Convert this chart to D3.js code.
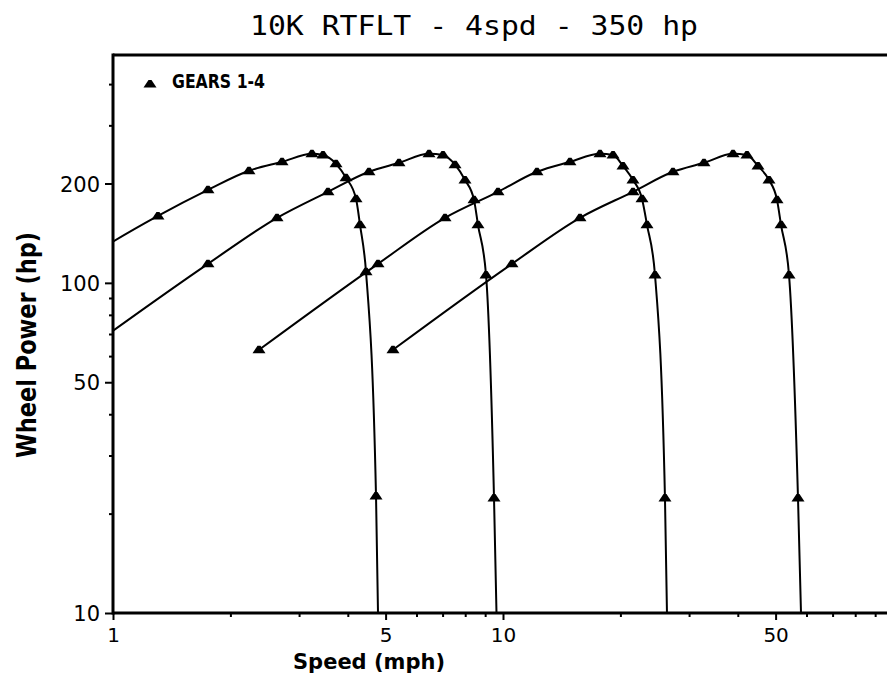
<!DOCTYPE html>
<html><head><meta charset="utf-8">
<script src="https://cdn.jsdelivr.net/npm/d3@7"></script>
<style>body{margin:0;background:#fff}svg{display:block;background:#fff}</style>
</head><body>
<svg id="c" width="887" height="677"></svg>
<script>
const title = "10K RTFLT - 4spd - 350 hp";
const xLabel = "Speed (mph)";
const yLabel = "Wheel Power (hp)";
const legendLabel = "GEARS 1-4";
const xTickLabels = [1, 5, 10, 50];
const yTickLabels = [10, 50, 100, 200];
const xMinorTicks = [2, 3, 4, 6, 7, 8, 9, 20, 30, 40, 60, 70, 80, 90];
const yMinorTicks = [20, 30, 40, 60, 70, 80, 90, 300, 400];

const gear1Speed = [0.430, 0.868, 1.304, 1.752, 2.232, 2.713, 3.237, 3.455, 3.731, 3.958, 4.199, 4.299, 4.454, 4.725, 4.781];
const gear1Power = [62.7, 120, 159.5, 191.3, 218.5, 232.6, 246, 244, 229.4, 208.1, 179.7, 149.9, 108.0, 22.6, 10];
const gear2Speed = [0.868, 1.752, 2.634, 3.558, 4.532, 5.412, 6.461, 7.017, 7.533, 7.990, 8.426, 8.627, 9.046, 9.483, 9.623];
const gear2Power = [63.5, 114.2, 157.4, 188.7, 217, 231, 246, 244, 228, 205, 178.4, 149.9, 105.7, 22.3, 10];
const gear3Speed = [2.368, 4.781, 7.101, 9.709, 12.22, 14.85, 17.73, 19.15, 20.31, 21.54, 22.72, 23.40, 24.53, 26.02, 26.33];
const gear3Power = [62.7, 114.2, 157.4, 188.7, 217, 232.6, 246, 244, 226, 205, 179.7, 149.9, 105.7, 22.3, 10];
const gear4Speed = [5.223, 10.545, 15.755, 21.544, 27.28, 32.76, 38.89, 42.23, 45.07, 48.09, 50.42, 51.63, 54.12, 57.07, 58.09];
const gear4Power = [62.7, 114.2, 157.4, 188.7, 217, 231, 246, 244, 226, 205, 178.4, 149.9, 105.7, 22.3, 10];

const gears = [
  [gear1Speed, gear1Power],
  [gear2Speed, gear2Power],
  [gear3Speed, gear3Power],
  [gear4Speed, gear4Power]
].map(([s, p]) => s.map((v, i) => [v, p[i]]));

const svg = d3.select("#c");
const mLeft = 113, mRight = 893, mTop = 55, mBottom = 613;
const x = d3.scaleLog().domain([1, 100]).range([mLeft, mRight]);
const y = d3.scaleLog().domain([10, 490]).range([mBottom, mTop]);

svg.append("defs").append("clipPath").attr("id", "plot")
  .append("rect").attr("x", mLeft).attr("y", mTop).attr("width", mRight - mLeft).attr("height", mBottom - mTop);

// Title
svg.append("text").attr("x", 250).attr("y", 35)
  .attr("font-family", "DejaVu Sans Mono").attr("font-size", 27)
  .attr("textLength", 448).attr("lengthAdjust", "spacingAndGlyphs")
  .attr("fill", "#000").text(title);

// Axes (ticks)
const fontTick = "DejaVu Sans";
const xMajor = svg.append("g").attr("transform", `translate(0,${mBottom})`)
  .call(d3.axisBottom(x).tickValues(xTickLabels).tickSize(7).tickPadding(8).tickFormat(d3.format("d")));
const xMinor = svg.append("g").attr("transform", `translate(0,${mBottom})`)
  .call(d3.axisBottom(x).tickValues(xMinorTicks).tickSize(4).tickFormat(""));
const yMajor = svg.append("g").attr("transform", `translate(${mLeft},0)`)
  .call(d3.axisLeft(y).tickValues(yTickLabels).tickSize(8).tickPadding(5).tickFormat(d3.format("d")));
const yMinor = svg.append("g").attr("transform", `translate(${mLeft},0)`)
  .call(d3.axisLeft(y).tickValues(yMinorTicks).tickSize(4).tickFormat(""));
[xMajor, xMinor, yMajor, yMinor].forEach(g => {
  g.select(".domain").remove();
  g.selectAll(".tick line").attr("stroke", "#000").attr("stroke-width", 2);
  g.selectAll(".tick text").attr("font-family", fontTick).attr("font-size", 20).attr("fill", "#000");
});
yMajor.selectAll(".tick text").attr("font-size", 21).attr("dy", "0.36em");

// Frame
const frame = svg.append("g").attr("stroke", "#000").attr("stroke-width", 3).attr("fill", "none");
frame.append("line").attr("x1", mLeft).attr("x2", 887).attr("y1", mTop).attr("y2", mTop);
frame.append("line").attr("x1", mLeft).attr("x2", mLeft).attr("y1", mTop - 1.5).attr("y2", mBottom + 1.5);
frame.append("line").attr("x1", mLeft).attr("x2", 887).attr("y1", mBottom).attr("y2", mBottom);

// Curves
const line = d3.line().x(d => x(d[0])).y(d => y(d[1])).curve(d3.curveMonotoneX);
const plot = svg.append("g").attr("clip-path", "url(#plot)");
const tri = "M-6.5,3.5 L-1.5,-4 L1.5,-4 L6.5,3.5 Z";
gears.forEach(g => {
  plot.append("path").datum(g).attr("d", line)
    .attr("fill", "none").attr("stroke", "#000").attr("stroke-width", 2);
  plot.selectAll(null).data(g.filter(d => d[1] > 10)).enter().append("path")
    .attr("d", tri)
    .attr("transform", d => `translate(${x(d[0])},${y(d[1])})`)
    .attr("fill", "#000");
});

// Legend
svg.append("path").attr("d", tri).attr("transform", "translate(150,84)").attr("fill", "#000");
svg.append("text").attr("x", 172).attr("y", 88)
  .attr("font-family", "DejaVu Sans").attr("font-weight", "bold").attr("font-size", 20)
  .attr("textLength", 93).attr("lengthAdjust", "spacingAndGlyphs")
  .attr("fill", "#000").text(legendLabel);

// Axis titles
svg.append("text").attr("x", 369).attr("y", 669).attr("text-anchor", "middle")
  .attr("font-family", "DejaVu Sans").attr("font-weight", "bold").attr("font-size", 22)
  .attr("textLength", 152).attr("lengthAdjust", "spacingAndGlyphs")
  .attr("fill", "#000").text(xLabel);
svg.append("text").attr("transform", "translate(36,345) rotate(-90)").attr("text-anchor", "middle")
  .attr("font-family", "DejaVu Sans").attr("font-weight", "bold").attr("font-size", 26)
  .attr("textLength", 226).attr("lengthAdjust", "spacingAndGlyphs")
  .attr("fill", "#000").text(yLabel);
</script>
</body></html>
